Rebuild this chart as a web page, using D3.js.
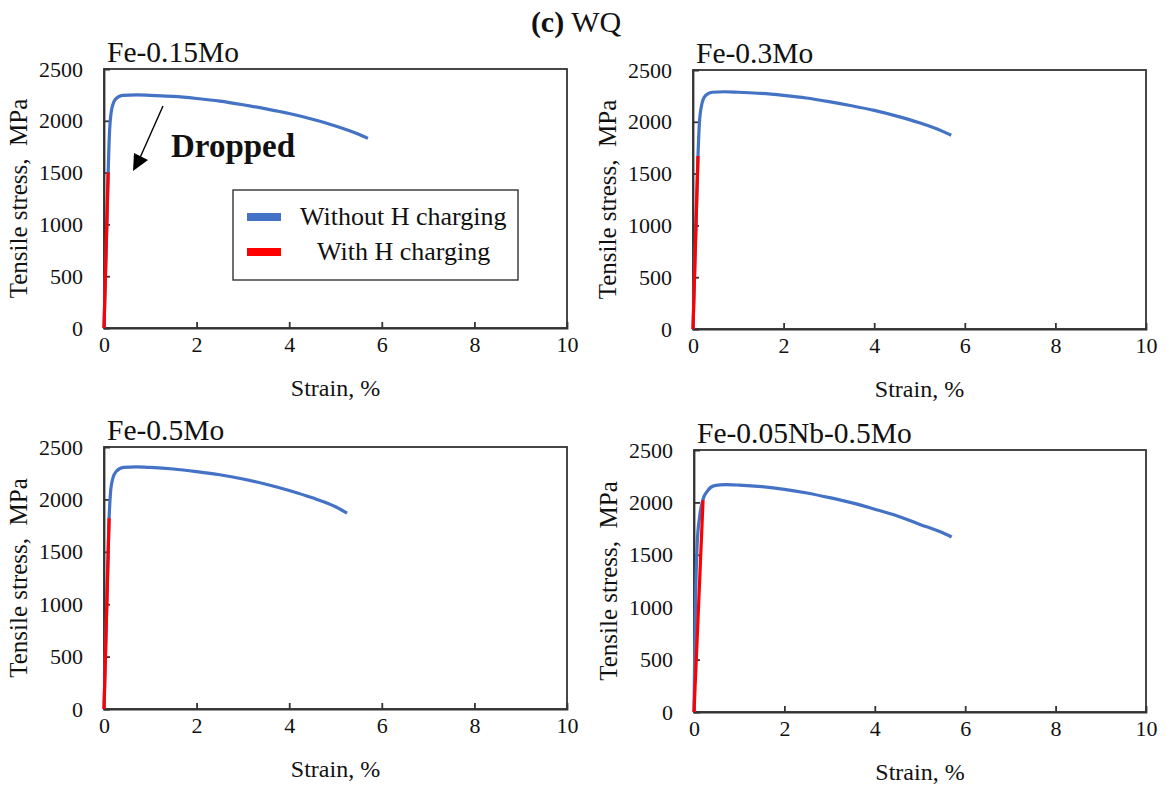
<!DOCTYPE html>
<html>
<head>
<meta charset="utf-8">
<script src="https://cdn.jsdelivr.net/npm/d3@7/dist/d3.min.js"></script>
<style>
  html, body { margin: 0; padding: 0; background: #fff; }
  svg { display: block; }
</style>
</head>
<body>
<svg id="chart" width="1169" height="789"></svg>
<script>
// Tensile curves, strain (%) vs stress (MPa), for four water-quenched steels
const xTicks = [0, 2, 4, 6, 8, 10];
const yTicks = [0, 500, 1000, 1500, 2000, 2500];
const panelNames = ["Fe-0.15Mo", "Fe-0.3Mo", "Fe-0.5Mo", "Fe-0.05Nb-0.5Mo"];

// Without H charging
const strainNoH_015Mo = [0, 0.05, 0.09, 0.12, 0.17, 0.25, 0.4, 0.7, 1, 1.5, 2, 2.5, 3, 3.5, 4, 4.5, 5, 5.5, 5.7];
const stressNoH_015Mo = [0, 800, 1500, 1900, 2120, 2210, 2245, 2250, 2245, 2235, 2215, 2190, 2155, 2115, 2070, 2015, 1950, 1870, 1830];

const strainNoH_03Mo = [0, 0.05, 0.11, 0.14, 0.19, 0.27, 0.42, 0.7, 1, 1.5, 2, 2.5, 3, 3.5, 4, 4.5, 5, 5.5, 5.7];
const stressNoH_03Mo = [0, 800, 1670, 1980, 2160, 2250, 2285, 2290, 2285, 2275, 2255, 2230, 2195, 2155, 2110, 2055, 1990, 1910, 1870];

const strainNoH_05Mo = [0, 0.05, 0.11, 0.14, 0.19, 0.27, 0.42, 0.7, 1, 1.5, 2, 2.5, 3, 3.5, 4, 4.5, 5, 5.25];
const stressNoH_05Mo = [0, 850, 1820, 2060, 2200, 2270, 2305, 2310, 2305, 2290, 2265, 2235, 2195, 2145, 2085, 2015, 1930, 1870];

const strainNoH_NbMo = [0, 0.02, 0.04, 0.07, 0.12, 0.2, 0.3, 0.45, 0.7, 1, 1.5, 2, 2.5, 3, 3.5, 4, 4.5, 5, 5.5, 5.7];
const stressNoH_NbMo = [0, 700, 1200, 1600, 1850, 2030, 2110, 2160, 2170, 2165, 2150, 2125, 2090, 2045, 1995, 1935, 1870, 1790, 1710, 1670];

// With H charging (specimens broke in the elastic range)
const strainH_015Mo = [0, 0.03, 0.06, 0.09];
const stressH_015Mo = [0, 500, 1000, 1500];
const strainH_03Mo = [0, 0.035, 0.07, 0.11];
const stressH_03Mo = [0, 520, 1050, 1670];
const strainH_05Mo = [0, 0.035, 0.07, 0.11];
const stressH_05Mo = [0, 560, 1130, 1820];
const strainH_NbMo = [0, 0.1, 0.2];
const stressH_NbMo = [0, 1000, 2020];

const zip = (xs, ys) => xs.map((x, i) => ({ x, y: ys[i] }));
const noH = [
  zip(strainNoH_015Mo, stressNoH_015Mo),
  zip(strainNoH_03Mo, stressNoH_03Mo),
  zip(strainNoH_05Mo, stressNoH_05Mo),
  zip(strainNoH_NbMo, stressNoH_NbMo)
];
const withH = [
  zip(strainH_015Mo, stressH_015Mo),
  zip(strainH_03Mo, stressH_03Mo),
  zip(strainH_05Mo, stressH_05Mo),
  zip(strainH_NbMo, stressH_NbMo)
];

const BLUE = "#4472C4", RED = "#FF0000", FRAME = "#333", INK = "#111";
const SERIF = '"Liberation Serif", "Times New Roman", Times, "DejaVu Serif", serif';

// Plot-area boxes for the 2x2 grid
const boxes = [
  { l: 104, t: 69, r: 567, b: 328 },
  { l: 693, t: 70, r: 1146, b: 329 },
  { l: 104, t: 447, r: 567, b: 709 },
  { l: 694, t: 450, r: 1146, b: 712 }
];

const svg = d3.select("#chart");
const label = (sel, size, weight) => sel
  .attr("font-family", SERIF).style("font-family", SERIF)
  .style("font-size", size + "px").style("font-weight", weight || "normal")
  .attr("fill", INK);

const title = svg.append("text")
  .attr("x", 576).attr("y", 32)
  .attr("text-anchor", "middle")
  .call(label, 30);
title.append("tspan").style("font-weight", "bold").text("(c)");
title.append("tspan").text(" WQ");

boxes.forEach((bx, i) => {
  const x = d3.scaleLinear().domain([0, 10]).range([bx.l, bx.r]);
  const y = d3.scaleLinear().domain([0, 2500]).range([bx.b, bx.t]);
  const g = svg.append("g");

  // frame
  g.append("rect")
    .attr("x", bx.l).attr("y", bx.t)
    .attr("width", bx.r - bx.l).attr("height", bx.b - bx.t)
    .attr("fill", "none").attr("stroke", FRAME).attr("stroke-width", 1.8);

  // axes with inward ticks
  const xAxis = g.append("g").attr("transform", `translate(0,${bx.b})`)
    .call(d3.axisBottom(x).tickValues(xTicks).tickSize(-6).tickPadding(8).tickFormat(d3.format("d")));
  const yAxis = g.append("g").attr("transform", `translate(${bx.l},0)`)
    .call(d3.axisLeft(y).tickValues(yTicks).tickSize(-6).tickPadding(21).tickFormat(d3.format("d")));
  [xAxis, yAxis].forEach(a => {
    a.attr("font-family", SERIF);
    a.select(".domain").attr("stroke", FRAME).attr("stroke-width", 1.8);
    a.selectAll(".tick line").attr("stroke", FRAME).attr("stroke-width", 1.8);
    a.selectAll(".tick text").call(label, 22);
  });
  xAxis.selectAll(".tick").filter(d => d === 0 || d === 10).select("line").remove();
  yAxis.selectAll(".tick").filter(d => d === 0 || d === 2500).select("line").remove();

  // axis titles
  g.append("text")
    .attr("x", (bx.l + bx.r) / 2).attr("y", bx.b + 68)
    .attr("text-anchor", "middle")
    .call(label, 24)
    .text("Strain, %");
  g.append("text")
    .attr("transform", `translate(${bx.l - 77},${(bx.t + bx.b) / 2}) rotate(-90)`)
    .attr("text-anchor", "middle")
    .style("white-space", "pre")
    .call(label, 25)
    .text("Tensile stress,  MPa");

  // panel title
  g.append("text")
    .attr("x", bx.l + 3).attr("y", bx.t - 7)
    .call(label, 29.5)
    .text(panelNames[i]);

  const line = d3.line().x(d => x(d.x)).y(d => y(d.y)).curve(d3.curveMonotoneX);
  g.append("path").datum(noH[i])
    .attr("d", line).attr("fill", "none")
    .attr("stroke", BLUE).attr("stroke-width", 3.2).attr("stroke-linejoin", "round");
  g.append("path").datum(withH[i])
    .attr("d", line).attr("fill", "none")
    .attr("stroke", RED).attr("stroke-width", 3.2).attr("stroke-linejoin", "round");
});

// "Dropped" annotation
svg.append("line")
  .attr("x1", 163).attr("y1", 106).attr("x2", 139).attr("y2", 160)
  .attr("stroke", "#000").attr("stroke-width", 1.4);
svg.append("path")
  .attr("d", "M133,171 L134,153 L148,160 Z").attr("fill", "#000");
svg.append("text")
  .attr("x", 171).attr("y", 157)
  .call(label, 33, "bold")
  .text("Dropped");

// legend
const lg = svg.append("g");
lg.append("rect").attr("x", 233).attr("y", 190).attr("width", 285).attr("height", 90)
  .attr("fill", "#fff").attr("stroke", FRAME).attr("stroke-width", 1.4);
const legendItems = [
  { label: "Without H charging", color: BLUE, tx: 300, y: 217 },
  { label: "With H charging", color: RED, tx: 317, y: 252 }
];
legendItems.forEach(it => {
  lg.append("rect").attr("x", 247).attr("y", it.y - 4).attr("width", 34).attr("height", 8).attr("fill", it.color);
  lg.append("text").attr("x", it.tx).attr("y", it.y + 8).call(label, 26).text(it.label);
});
</script>
</body>
</html>
